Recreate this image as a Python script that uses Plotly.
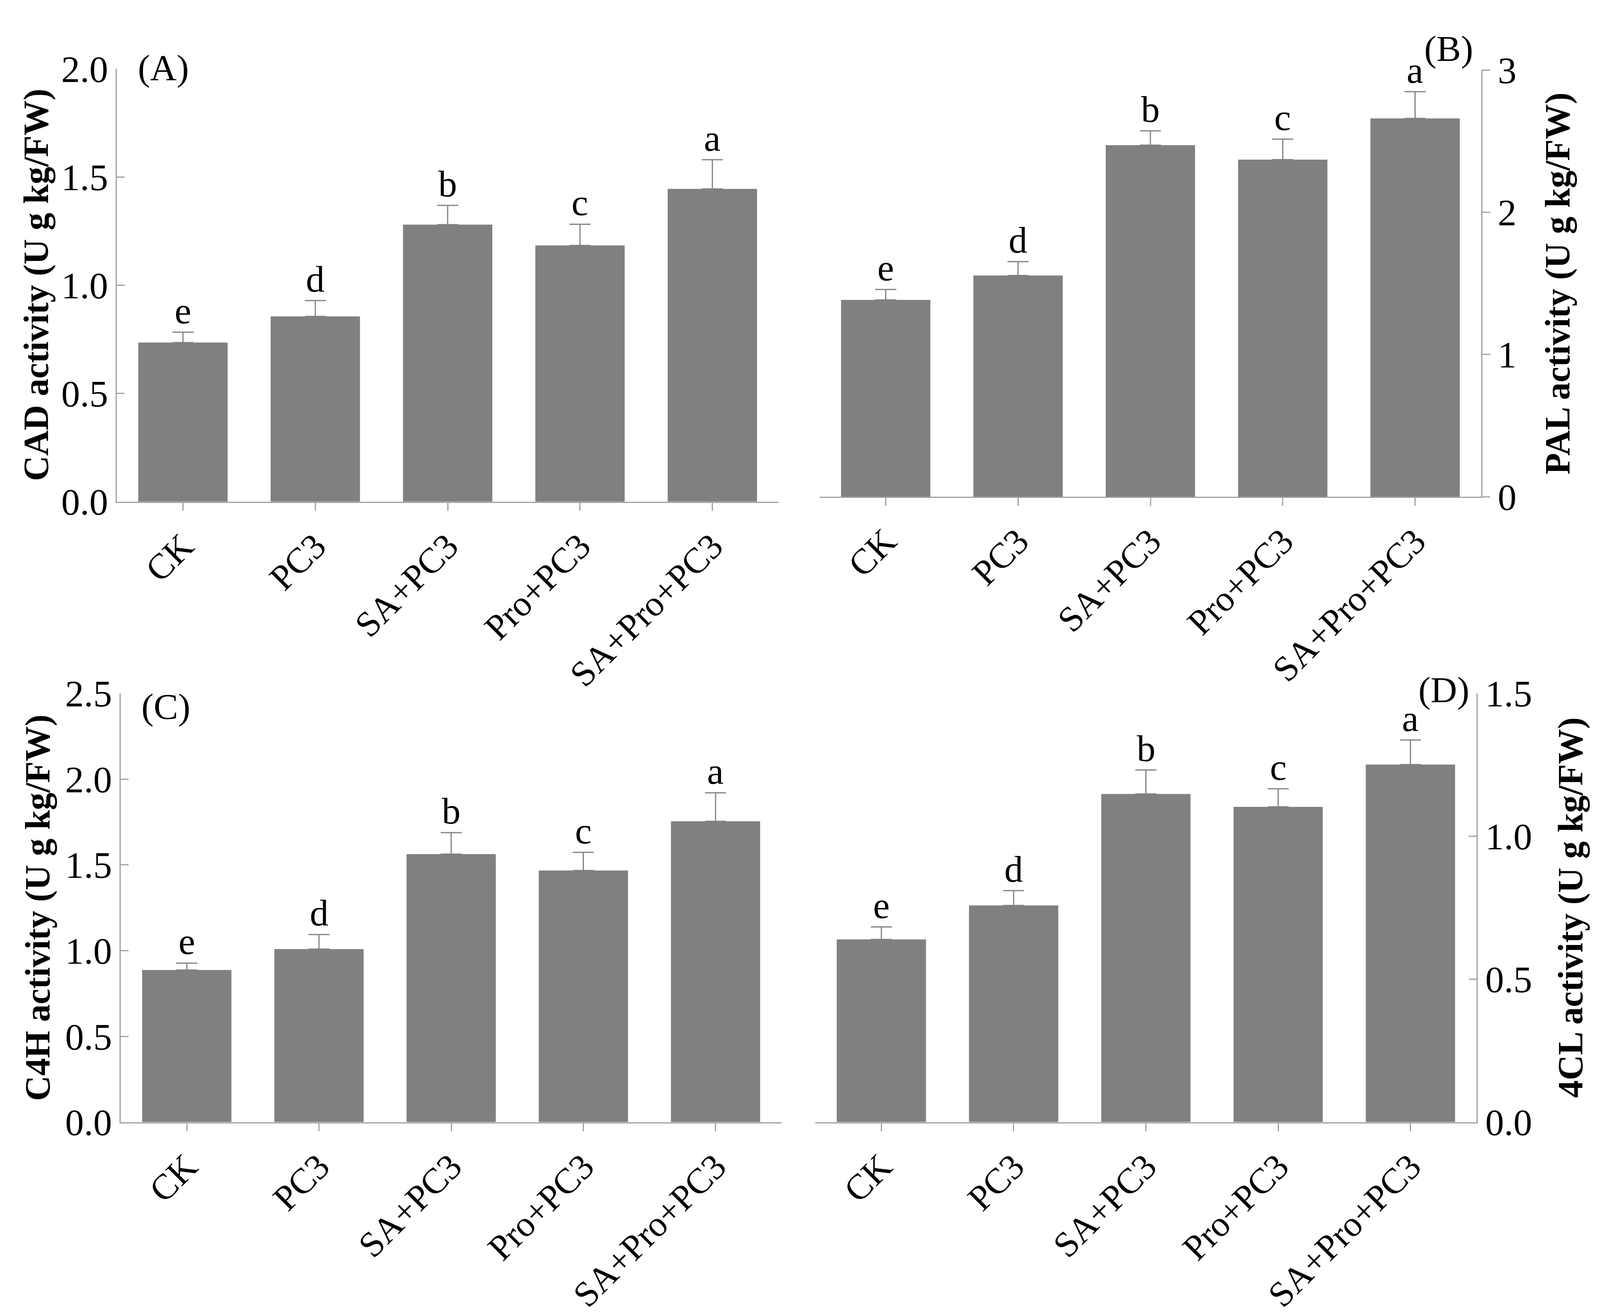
import plotly.graph_objects as go

W, H = 4102, 3365

categories = ["CK", "PC3", "SA+PC3", "Pro+PC3", "SA+Pro+PC3"]

cad_mean = [0.735, 0.856, 1.280, 1.184, 1.445]
cad_err = [0.048, 0.073, 0.089, 0.098, 0.135]
cad_letters = ["e", "d", "b", "c", "a"]

pal_mean = [1.384, 1.555, 2.471, 2.370, 2.659]
pal_err = [0.073, 0.098, 0.101, 0.144, 0.188]
pal_letters = ["e", "d", "b", "c", "a"]

c4h_mean = [0.887, 1.009, 1.563, 1.467, 1.754]
c4h_err = [0.040, 0.085, 0.125, 0.106, 0.166]
c4h_letters = ["e", "d", "b", "c", "a"]

cl_mean = [0.639, 0.758, 1.148, 1.103, 1.251]
cl_err = [0.044, 0.052, 0.084, 0.063, 0.086]
cl_letters = ["e", "d", "b", "c", "a"]

titles = ["CAD activity (U g kg/FW)", "PAL activity (U g kg/FW)",
          "C4H activity (U g kg/FW)", "4CL activity (U g kg/FW)"]
panel_tags = ["(A)", "(B)", "(C)", "(D)"]

FONT = "Liberation Serif, Times New Roman, serif"
BAR = "#808080"
AX = "#a0a0a0"
FS_TICK = 96
FS_CAT = 92
FS_LET = 96
FS_TITLE = 90
FS_TAG = 94


def px_x(a, b):
    return [a / W, b / W]


def px_y(top, bottom):
    return [1 - bottom / H, 1 - top / H]


panels = [
    dict(mean=cad_mean, err=cad_err, let=cad_letters, rng=[0, 2.0], dt=0.5, fmt=".1f",
         xd=px_x(291, 1985), yd=px_y(120, 1265), side="left", ticks="inside",
         title_xy=(85, 692), tag_xy=(410, 117)),
    dict(mean=pal_mean, err=pal_err, let=pal_letters, rng=[0, 3.0], dt=1, fmt="d",
         xd=px_x(2090, 3784), yd=px_y(123, 1252), side="right", ticks="outside",
         title_xy=(3980, 688), tag_xy=(3700, 66)),
    dict(mean=c4h_mean, err=c4h_err, let=c4h_letters, rng=[0, 2.5], dt=0.5, fmt=".1f",
         xd=px_x(301, 1993), yd=px_y(1772, 2906), side="left", ticks="inside",
         title_xy=(89, 2339), tag_xy=(416, 1806)),
    dict(mean=cl_mean, err=cl_err, let=cl_letters, rng=[0, 1.5], dt=0.5, fmt=".1f",
         xd=px_x(2079, 3772), yd=px_y(1772, 2906), side="right", ticks="inside",
         title_xy=(4013, 2339), tag_xy=(3688, 1762)),
]

fig = go.Figure()
annotations = []
layout = {}

for i, p in enumerate(panels, start=1):
    xa = "x" if i == 1 else f"x{i}"
    ya = "y" if i == 1 else f"y{i}"
    fig.add_trace(go.Bar(
        x=categories, y=p["mean"], xaxis=xa, yaxis=ya,
        marker=dict(color=BAR, line=dict(width=0)),
        width=0.675,
        error_y=dict(type="data", array=p["err"], arrayminus=[0] * len(p["err"]),
                     symmetric=False, color=BAR, thickness=3, width=27),
        showlegend=False,
    ))
    xkey = "xaxis" if i == 1 else f"xaxis{i}"
    ykey = "yaxis" if i == 1 else f"yaxis{i}"
    layout[xkey] = dict(
        domain=p["xd"], anchor=ya, range=[-0.5, 4.5], type="category",
        showline=True, linecolor=AX, linewidth=3, ticks="outside", ticklen=20,
        tickwidth=3, tickcolor=AX, tickangle=-45, showgrid=False, zeroline=False,
        tickfont=dict(family=FONT, size=FS_CAT, color="black"),
    )
    layout[ykey] = dict(
        domain=p["yd"], anchor=xa, side=p["side"], range=p["rng"], dtick=p["dt"],
        tick0=0, tickformat=p["fmt"], showline=True, linecolor=AX, linewidth=3,
        ticks=p["ticks"], ticklen=20, tickwidth=3, tickcolor=AX,
        showgrid=False, zeroline=False,
        tickfont=dict(family=FONT, size=FS_TICK, color="black"),
    )
    # significance letters
    for c, m, e, l in zip(categories, p["mean"], p["err"], p["let"]):
        annotations.append(dict(
            x=c, y=m + e, xref=xa, yref=ya, text=l, showarrow=False,
            yanchor="bottom", yshift=0, font=dict(family=FONT, size=FS_LET, color="black"),
        ))
    # axis title
    tx, ty = p["title_xy"]
    annotations.append(dict(
        x=tx / W, y=1 - ty / H, xref="paper", yref="paper", text="<b>" + titles[i - 1] + "</b>",
        textangle=-90, showarrow=False, xanchor="center", yanchor="middle",
        font=dict(family=FONT, size=FS_TITLE, color="black"),
    ))
    gx, gy = p["tag_xy"]
    annotations.append(dict(
        x=gx / W, y=1 - gy / H, xref="paper", yref="paper", text=panel_tags[i - 1],
        showarrow=False, xanchor="center", yanchor="middle",
        font=dict(family=FONT, size=FS_TAG, color="black"),
    ))

fig.update_layout(
    width=W, height=H, margin=dict(l=0, r=0, t=0, b=0),
    paper_bgcolor="white", plot_bgcolor="white",
    annotations=annotations, **layout,
)

fig.write_html("out.html")
